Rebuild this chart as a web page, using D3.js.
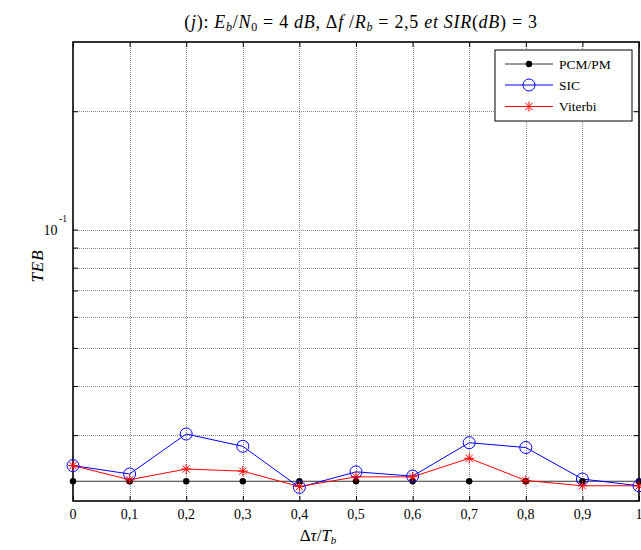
<!DOCTYPE html>
<html><head><meta charset="utf-8">
<script src="https://cdn.jsdelivr.net/npm/d3@7"></script>
<style>body{margin:0;background:#fff}svg{display:block}text{font-family:"Liberation Serif","Times New Roman",serif}</style>
</head><body><svg id="c" width="641" height="550"></svg>
<script>
const xValues = [0,0.1,0.2,0.3,0.4,0.5,0.6,0.7,0.8,0.9,1];
const xTickLabels = ["0","0,1","0,2","0,3","0,4","0,5","0,6","0,7","0,8","0,9","1"];
const pcm = [0.0229,0.0229,0.0229,0.0229,0.0229,0.0229,0.0229,0.0229,0.0229,0.0229,0.0229];
const sic = [0.0251,0.0239,0.0302,0.0281,0.0221,0.0242,0.0236,0.0287,0.0279,0.0232,0.0223];
const viterbi = [0.0251,0.0231,0.0246,0.0243,0.0222,0.0235,0.0235,0.0262,0.0230,0.0223,0.0223];
const seriesNames = ["PCM/PM","SIC","Viterbi"];
const yGrid = [0.03,0.04,0.05,0.06,0.07,0.08,0.09,0.1,0.2];

const svg = d3.select("#c");
const L=73, R=639, T=42, B=501;
const x = d3.scaleLinear().domain([0,1]).range([L,R]);
const y = d3.scaleLog().domain([0.0204,0.3]).range([B,T]);

// grid
const g = svg.append("g");
g.selectAll(".vg").data(xValues.slice(1,-1)).enter().append("line")
 .attr("x1",d=>Math.round(x(d))+0.5).attr("x2",d=>Math.round(x(d))+0.5).attr("y1",T).attr("y2",B)
 .attr("stroke","#888").attr("stroke-width",1).attr("stroke-dasharray","1,1");
g.selectAll(".hg").data(yGrid).enter().append("line")
 .attr("x1",L).attr("x2",R).attr("y1",d=>Math.round(y(d))+0.5).attr("y2",d=>Math.round(y(d))+0.5)
 .attr("stroke","#888").attr("stroke-width",1).attr("stroke-dasharray","1,1");

// ticks (inward)
const xAxisB = d3.axisBottom(x).tickValues(xValues).tickSize(-5).tickFormat("");
svg.append("g").attr("transform",`translate(0,${B})`).call(xAxisB).call(a=>{a.select(".domain").remove();a.selectAll("line").attr("stroke","#000");});
const xAxisT = d3.axisTop(x).tickValues(xValues).tickSize(-5).tickFormat("");
svg.append("g").attr("transform",`translate(0,${T})`).call(xAxisT).call(a=>{a.select(".domain").remove();a.selectAll("line").attr("stroke","#000");});
const yAxisL = d3.axisLeft(y).tickValues(yGrid).tickSize(-5).tickFormat("");
svg.append("g").attr("transform",`translate(${L},0)`).call(yAxisL).call(a=>{a.select(".domain").remove();a.selectAll("line").attr("stroke","#000");});
const yAxisR = d3.axisRight(y).tickValues(yGrid).tickSize(-5).tickFormat("");
svg.append("g").attr("transform",`translate(${R},0)`).call(yAxisR).call(a=>{a.select(".domain").remove();a.selectAll("line").attr("stroke","#000");});

// frame
svg.append("rect").attr("x",L).attr("y",T).attr("width",R-L).attr("height",B-T)
 .attr("fill","none").attr("stroke","#000").attr("stroke-width",1.6);

// x tick labels
svg.selectAll(".xl").data(xValues).enter().append("text")
 .attr("x",d=>x(d)).attr("y",519).attr("text-anchor","middle").attr("font-size",14).text((d,i)=>xTickLabels[i]);
// y tick label 10^-1
svg.append("text").attr("x",57.5).attr("y",y(0.1)+5).attr("text-anchor","end").attr("font-size",14).text("10");
svg.append("text").attr("x",59).attr("y",y(0.1)-8).attr("font-size",9.5).text("-1");

// data lines
const line = d3.line().x((d,i)=>x(xValues[i])).y(d=>y(d));
const datasets = [{v:pcm,c:"#000"},{v:sic,c:"#0000ff"},{v:viterbi,c:"#ff0000"}];
const dg = svg.append("g");
datasets.forEach((s,k)=>{
  dg.append("path").datum(s.v).attr("d",line).attr("fill","none").attr("stroke",k===0?"#333":s.c).attr("stroke-width",1);
});
function marker(sel,k,cx,cy){
  if(k===0){ sel.append("circle").attr("cx",cx).attr("cy",cy).attr("r",3.2).attr("fill","#000"); }
  else if(k===1){ sel.append("circle").attr("cx",cx).attr("cy",cy).attr("r",6).attr("fill","none").attr("stroke","#0000ff").attr("stroke-width",1); }
  else {
    const s=5, c=3.6;
    const p = `M${cx-s},${cy}L${cx+s},${cy}M${cx},${cy-s}L${cx},${cy+s}M${cx-c},${cy-c}L${cx+c},${cy+c}M${cx-c},${cy+c}L${cx+c},${cy-c}`;
    sel.append("path").attr("d",p).attr("stroke","#ff0000").attr("stroke-width",1);
  }
}
datasets.forEach((s,k)=>{ s.v.forEach((d,i)=>marker(dg,k,x(xValues[i]),y(d))); });

// legend
const lg = svg.append("g");
lg.append("rect").attr("x",495).attr("y",50).attr("width",137).attr("height",71).attr("fill","#fff").attr("stroke","#000").attr("stroke-width",1);
const rowsY=[64,85,106.5];
datasets.forEach((s,k)=>{
  lg.append("line").attr("x1",505).attr("x2",553).attr("y1",rowsY[k]).attr("y2",rowsY[k]).attr("stroke",k===0?"#333":s.c).attr("stroke-width",1);
  marker(lg,k,529,rowsY[k]);
  lg.append("text").attr("x",559).attr("y",rowsY[k]+4.5).attr("font-size",13.5).text(seriesNames[k]);
});

// title
const t = svg.append("text").attr("x",361).attr("y",28).attr("text-anchor","middle").attr("font-size",18).attr("letter-spacing",0.7);
t.append("tspan").text("(");
t.append("tspan").attr("font-style","italic").text("j");
t.append("tspan").text("): ");
t.append("tspan").attr("font-style","italic").text("E");
t.append("tspan").attr("font-style","italic").attr("font-size",12).attr("dy",3).text("b");
t.append("tspan").attr("dy",-3).text("/");
t.append("tspan").attr("font-style","italic").text("N");
t.append("tspan").attr("font-size",12).attr("dy",3).text("0");
t.append("tspan").attr("dy",-3).text(" =  4 ");
t.append("tspan").attr("font-style","italic").text("dB");
t.append("tspan").text(", Δ");
t.append("tspan").attr("font-style","italic").text("f");
t.append("tspan").text(" /");
t.append("tspan").attr("font-style","italic").text("R");
t.append("tspan").attr("font-style","italic").attr("font-size",12).attr("dy",3).text("b");
t.append("tspan").attr("dy",-3).text(" = 2,5 ");
t.append("tspan").attr("font-style","italic").text("et SIR");
t.append("tspan").text("(");
t.append("tspan").attr("font-style","italic").text("dB");
t.append("tspan").text(")  = 3");

// y label
svg.append("text").attr("transform","translate(43,266) rotate(-90)").attr("text-anchor","middle")
 .attr("font-size",17).attr("font-style","italic").attr("letter-spacing",1).text("TEB");

// x label
const xl = svg.append("text").attr("x",318).attr("y",541).attr("text-anchor","middle").attr("font-size",17);
xl.append("tspan").text("Δ");
xl.append("tspan").attr("font-style","italic").text("τ");
xl.append("tspan").text("/");
xl.append("tspan").attr("font-style","italic").text("T");
xl.append("tspan").attr("font-style","italic").attr("font-size",11).attr("dy",3).text("b");
</script></body></html>
